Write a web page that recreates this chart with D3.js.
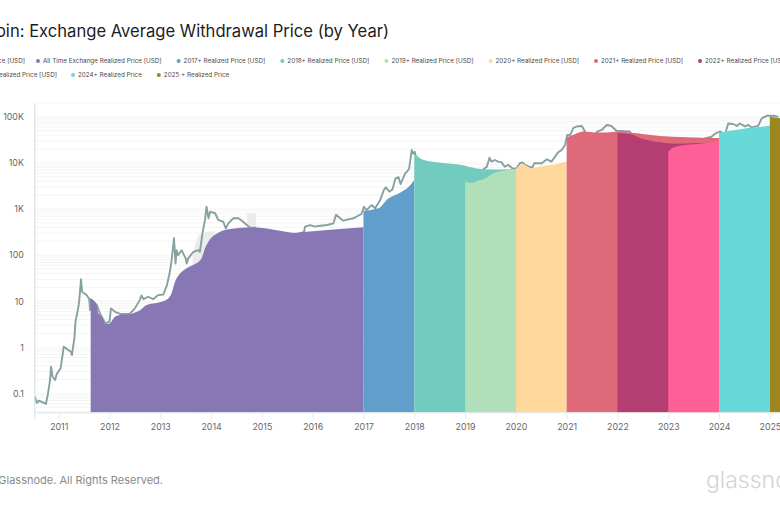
<!DOCTYPE html>
<html>
<head>
<meta charset="utf-8">
<script src="https://d3js.org/d3.v7.min.js"></script>
<style>
  html, body { margin: 0; padding: 0; background: #fff; }
  svg { display: block; font-family: Inter, "Noto Sans", sans-serif; }
</style>
</head>
<body>
<svg id="chart" width="780" height="507"></svg>
<script>
const titleText = 'Bitcoin: Exchange Average Withdrawal Price (by Year)';
const footerText = '© 2025 Glassnode. All Rights Reserved.';
const logoText = 'glassnode';

const yearTicks = [2011, 2012, 2013, 2014, 2015, 2016, 2017, 2018, 2019, 2020, 2021, 2022, 2023, 2024, 2025];
const priceTicks = [0.1, 1, 10, 100, 1000, 10000, 100000];
const priceTickLabels = ['0.1', '1', '10', '100', '1K', '10K', '100K'];

const legendRow1 = ['Price [USD]', 'All Time Exchange Realized Price [USD]', '2017+ Realized Price [USD]', '2018+ Realized Price [USD]', '2019+ Realized Price [USD]', '2020+ Realized Price [USD]', '2021+ Realized Price [USD]', '2022+ Realized Price [USD]'];
const legendRow2 = ['2023+ Realized Price [USD]', '2024+ Realized Price', '2025 + Realized Price'];
const legendColors1 = ['#87a0a0', '#8778b5', '#619ecb', '#72cbbf', '#b0dfb9', '#fdd79b', '#dd6979', '#b43d72'];
const legendColors2 = ['#fd5f96', '#67d9d9', '#9c8620'];

// [year, usd]
const price = [
  [2010.53, 0.085], [2010.57, 0.062], [2010.61, 0.07], [2010.75, 0.059], [2010.79, 0.1], [2010.83, 0.195], [2010.85, 0.38],
  [2010.88, 0.23], [2010.93, 0.195], [2010.96, 0.26], [2011.04, 0.356], [2011.10, 1.03], [2011.16, 0.92], [2011.24, 0.8],
  [2011.26, 0.68], [2011.31, 1.6], [2011.33, 3.6], [2011.37, 5.9], [2011.40, 9.1], [2011.44, 29.9], [2011.46, 16],
  [2011.55, 13.6], [2011.60, 11.2], [2011.62, 6.4], [2011.63, 11.1], [2011.75, 8.3], [2011.81, 5.5], [2011.92, 3.3],
  [2012.0, 3.6], [2012.03, 7.0], [2012.11, 5.9], [2012.21, 5.3], [2012.40, 5.3], [2012.50, 7.0], [2012.60, 10.7],
  [2012.63, 13.3], [2012.67, 11.1], [2012.76, 12.5], [2012.86, 11.1], [2012.96, 13.6], [2013.06, 14], [2013.13, 22],
  [2013.19, 44], [2013.22, 72], [2013.27, 232], [2013.30, 66], [2013.32, 128], [2013.35, 100], [2013.42, 128],
  [2013.50, 85], [2013.52, 66], [2013.55, 85], [2013.65, 118], [2013.75, 128], [2013.78, 118], [2013.83, 297],
  [2013.88, 580], [2013.91, 1120], [2013.95, 630], [2013.98, 880], [2014.08, 810], [2014.14, 580], [2014.24, 530],
  [2014.29, 380], [2014.34, 490], [2014.44, 630], [2014.54, 630], [2014.63, 530], [2014.73, 430], [2014.80, 380],
  [2014.86, 400], [2015.1, 230], [2015.5, 250], [2015.83, 320], [2015.85, 415], [2015.95, 450], [2016.05, 415],
  [2016.11, 430], [2016.28, 450], [2016.41, 490], [2016.46, 750], [2016.54, 630], [2016.6, 560], [2016.8, 630],
  [2016.96, 780], [2017.01, 1120], [2017.06, 950], [2017.16, 1220], [2017.23, 1040], [2017.33, 1570], [2017.40, 2580],
  [2017.44, 2960], [2017.51, 2370], [2017.57, 2660], [2017.63, 4640], [2017.69, 4900], [2017.73, 3480], [2017.82, 5950],
  [2017.86, 6500], [2017.90, 7600], [2017.95, 19100], [2017.98, 16000], [2018.01, 17500], [2018.03, 13700], [2018.2, 9000],
  [2018.5, 7000], [2018.9, 3800], [2019.2, 3900], [2019.36, 7300], [2019.43, 8300], [2019.48, 12950], [2019.52, 10700],
  [2019.59, 11600], [2019.65, 10700], [2019.72, 10300], [2019.78, 8300], [2019.85, 9100], [2019.93, 7700], [2020.0, 7400],
  [2020.08, 9850], [2020.13, 10300], [2020.18, 9100], [2020.28, 8100], [2020.33, 8100], [2020.36, 9850], [2020.51, 9850],
  [2020.61, 12000], [2020.70, 10700], [2020.83, 16800], [2020.90, 19100], [2020.97, 24500], [2021.01, 40500], [2021.07, 40500],
  [2021.13, 57000], [2021.20, 62000], [2021.30, 63500], [2021.36, 48000], [2021.5, 33000], [2021.60, 48000], [2021.69, 52000],
  [2021.79, 66700], [2021.88, 63500], [2021.98, 50000], [2022.24, 48000], [2022.5, 22000], [2023.0, 17000], [2023.5, 29000],
  [2023.85, 37000], [2023.95, 45000], [2024.02, 48000], [2024.12, 42000], [2024.18, 72000], [2024.28, 70000], [2024.35, 63500],
  [2024.41, 72000], [2024.51, 62000], [2024.58, 66700], [2024.64, 59000], [2024.77, 63500], [2024.84, 93000], [2024.94, 105600],
  [2025.07, 105600], [2025.17, 100000]
];

const allTime = [
  [2011.63, 11.5], [2011.75, 8.3], [2011.78, 5.46], [2011.85, 4.6], [2011.92, 3.2], [2012.0, 3.3], [2012.11, 4.6], [2012.21, 5],
  [2012.40, 5.3], [2012.60, 6.4], [2012.73, 8.3], [2012.99, 9.5], [2013.13, 10.9], [2013.22, 14.8], [2013.29, 26.5], [2013.39, 40],
  [2013.52, 52], [2013.68, 64], [2013.81, 85], [2013.88, 140], [2013.98, 220], [2014.14, 305], [2014.37, 370], [2014.70, 400],
  [2014.96, 395], [2015.36, 340], [2015.69, 305], [2015.88, 320], [2016.47, 365], [2017.0, 405]
];
const y2017 = [[2017.0, 920], [2017.29, 1040], [2017.49, 1700], [2017.72, 2260], [2017.88, 2960], [2018.0, 4260]];
const y2018 = [[2018.0, 16000], [2018.15, 12000], [2018.44, 10300], [2018.90, 9100], [2019.23, 7600], [2019.55, 7200], [2020.0, 7400]];
const y2019 = [[2019.0, 3900], [2019.13, 3700], [2019.26, 4150], [2019.43, 4800], [2019.55, 5950], [2019.75, 6800], [2020.0, 7400]];
const y2020 = [[2020.0, 7500], [2020.04, 8300], [2020.14, 9400], [2020.24, 8300], [2020.31, 7700], [2020.54, 8600], [2020.80, 9400], [2021.0, 10700]];
const y2021 = [[2021.0, 36000], [2021.16, 42000], [2021.33, 48000], [2021.56, 46000], [2021.79, 46000], [2022.0, 48000], [2022.38, 44000], [2022.84, 38500], [2023.36, 36000], [2024.0, 35000]];
const y2022 = [[2022.0, 44000], [2022.24, 42600], [2022.47, 34000], [2022.84, 28000], [2023.10, 26000], [2023.62, 27000], [2024.0, 28000]];
const y2023 = [[2023.0, 17500], [2023.07, 20600], [2023.23, 23600], [2023.62, 26000], [2024.0, 30000]];
const y2024 = [[2024.0, 44600], [2024.21, 50000], [2024.54, 57000], [2024.80, 60000], [2025.0, 65000]];
const y2025 = [[2025.0, 100000], [2025.2, 93000]];

// pale grey patches sitting behind the all time area
const greyPatchA = [[2013.64, 100], [2013.68, 165], [2013.75, 271], [2013.88, 315], [2014.08, 340]];
const greyPatchB = [[2014.71, 820], [2014.88, 820]];

const cohorts = [allTime, y2017, y2018, y2019, y2020, y2021, y2022, y2023, y2024, y2025];
const cohortColors = legendColors1.slice(1).concat(legendColors2);

const svg = d3.select('#chart');

const x = d3.scaleLinear().domain([2010.52, 2025.2]).range([34.3, 780]);
const y = d3.scaleLog().domain([0.0389, 200000]).range([412.3, 103]);

///////////////////////////////////////////////////////////////
// grid
const gridValues = [];
for (let e = -2; e <= 5; e++) {
  for (let m = 1; m <= 9; m++) {
    const v = m * Math.pow(10, e);
    if (v >= 0.04 && v <= 200000) gridValues.push(v);
  }
}
svg.append('g').selectAll('line').data(gridValues).join('line')
  .attr('x1', x.range()[0]).attr('x2', x.range()[1])
  .attr('y1', d => y(d)).attr('y2', d => y(d))
  .attr('stroke', '#efefef').attr('stroke-width', 0.7);

const base = y.range()[0];
const area = d3.area().x(d => x(d[0])).y0(base).y1(d => y(d[1]));

[greyPatchA, greyPatchB].forEach(p => {
  svg.append('path').attr('d', area(p)).attr('fill', '#ebebeb');
});

// price sits below the cohort areas
const line = d3.line().x(d => x(d[0])).y(d => y(d[1]));
svg.append('path').attr('d', line(price))
  .attr('fill', 'none').attr('stroke', '#87a0a0').attr('stroke-width', 1.9).attr('stroke-linejoin', 'round');

area.curve(d3.curveMonotoneX);
cohorts.forEach((c, i) => {
  svg.append('path').attr('d', area(c)).attr('fill', cohortColors[i]);
});

///////////////////////////////////////////////////////////////
// axes
const xAxis = d3.axisBottom(x).tickValues(yearTicks).tickFormat(d3.format('d')).tickSize(7).tickPadding(4.5);
const gx = svg.append('g').attr('transform', 'translate(0,' + base + ')').call(xAxis);
gx.select('.domain').attr('stroke', '#dfe7e7');
gx.selectAll('.tick line').attr('stroke', '#e6ecec');
gx.selectAll('text').attr('font-size', 8.8).attr('font-family', 'Inter').attr('fill', '#666');

const yAxis = d3.axisLeft(y).tickValues(priceTicks).tickFormat((d, i) => priceTickLabels[i]).tickSize(0).tickPadding(10.5);
const gy = svg.append('g').attr('transform', 'translate(' + x.range()[0] + ',0)').call(yAxis);
gy.select('.domain').attr('stroke', '#d5e3e3').attr('stroke-width', 1.2);
gy.selectAll('text').attr('font-size', 8.8).attr('font-family', 'Inter').attr('fill', '#666');

///////////////////////////////////////////////////////////////
// title, legend, footer
svg.append('text').attr('x', 389).attr('y', 36.5).attr('text-anchor', 'end')
  .attr('font-size', 16.6).attr('fill', '#1d1d1f').text(titleText);

function drawLegend(labels, colors, endOfFirst, secondDot, yPos)
{
  let left = 0;
  labels.forEach((label, i) => {
    const t = svg.append('text').attr('y', yPos + 2.2).attr('font-size', 6.3).attr('fill', '#4a4a4a').text(label);
    const w = t.node().getComputedTextLength();
    if (i === 0) left = endOfFirst - w - 7;
    if (i === 1) left = secondDot - 2;
    svg.append('circle').attr('cx', left + 2).attr('cy', yPos).attr('r', 2).attr('fill', colors[i]);
    t.attr('x', left + 7);
    left += 7 + w + 15;
  });
}
drawLegend(legendRow1, legendColors1, 25, 38, 61);
drawLegend(legendRow2, legendColors2, 57, 73, 75);

svg.append('text').attr('x', 163).attr('y', 484).attr('text-anchor', 'end')
  .attr('font-size', 11).attr('fill', '#8a8a8a').text(footerText);

svg.append('text').attr('x', 706).attr('y', 488)
  .attr('font-size', 23).attr('font-weight', 300).attr('fill', '#d4d4d4').text(logoText);
</script>
</body>
</html>
